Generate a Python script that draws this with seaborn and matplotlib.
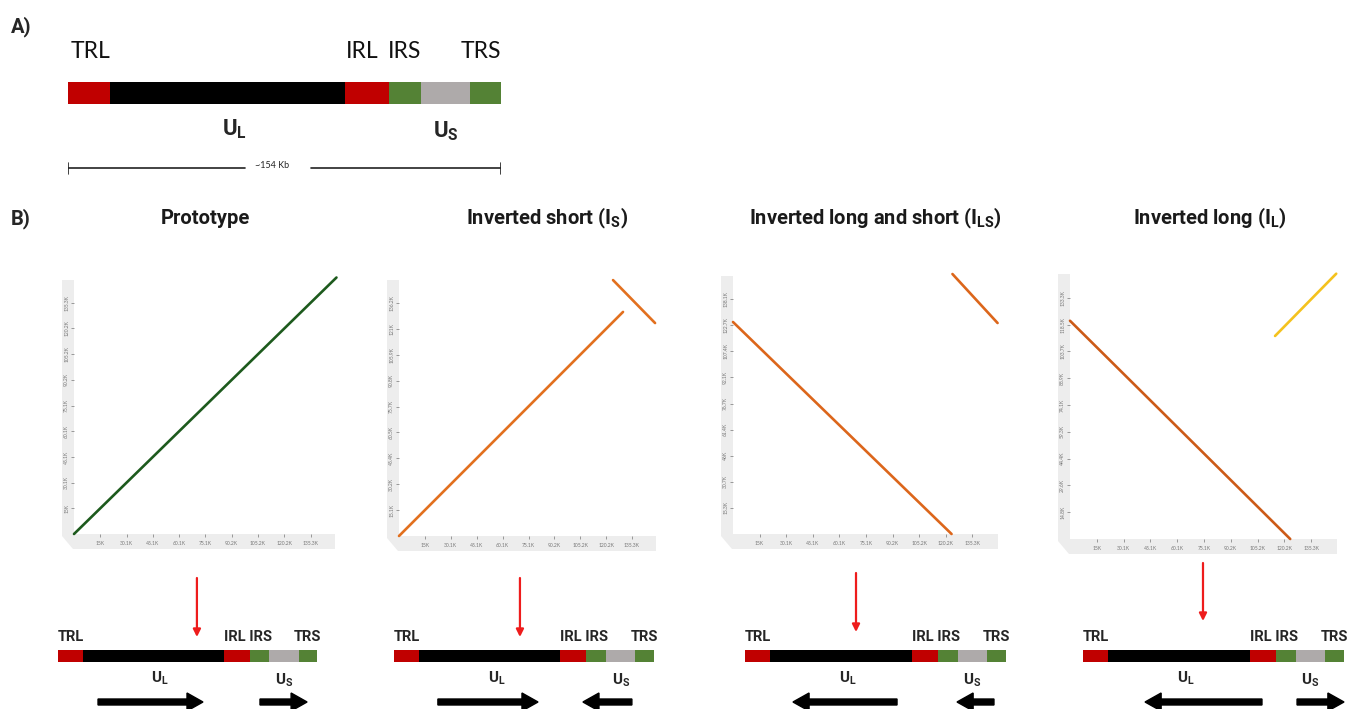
import numpy as np
import pandas as pd
import matplotlib
matplotlib.use("Agg")
import matplotlib.pyplot as plt
from matplotlib.patches import Polygon, FancyArrow
import seaborn as sns

W, H = 1347, 709

# ---- genome architecture (kb) ----
segment_names = ["TRL", "UL", "IRL", "IRS", "US", "TRS"]
segment_kb = [15.0, 83.5, 15.5, 11.5, 17.5, 11.0]
segment_colors = ["#c00000", "#000000", "#c00000", "#548235", "#aeaaaa", "#548235"]
genome_kb = 154

# ---- dot plots ----
panel_titles = ["Prototype", r"Inverted short (I$_S$)",
                r"Inverted long and short (I$_{LS}$)", r"Inverted long (I$_L$)"]
x_lengths = [150.3, 150.3, 150.3, 150.3]
y_lengths = [150.3, 151.3, 153.4, 148.1]
x_tick_labels = ["15K", "30.1K", "45.1K", "60.1K", "75.1K", "90.2K", "105.2K", "120.2K", "135.3K"]
y_tick_labels = [
    ["15K", "30.1K", "45.1K", "60.1K", "75.1K", "90.2K", "105.2K", "120.2K", "135.3K"],
    ["15.1K", "30.2K", "45.4K", "60.5K", "75.7K", "90.8K", "105.9K", "121K", "136.2K"],
    ["15.3K", "30.7K", "46K", "61.4K", "76.7K", "92.1K", "107.4K", "122.7K", "138.1K"],
    ["14.8K", "29.6K", "44.4K", "59.3K", "74.1K", "88.9K", "103.7K", "118.5K", "133.3K"],
]
# alignment segments: (x0, y0) -> (x1, y1) in kb
align_x0 = [[0.0], [0.0, 124.2], [0.0, 124.0], [0.0, 115.0]]
align_y0 = [[0.0], [0.0, 149.5], [124.6, 152.8], [120.6, 112.2]]
align_x1 = [[150.0], [130.0, 148.6], [123.5, 149.5], [123.5, 149.3]]
align_y1 = [[150.0], [130.9, 124.4], [0.0, 124.0], [0.0, 146.6]]
align_colors = [["#1d5a1d"], ["#e2701f", "#e2701f"], ["#dc661b", "#dc661b"], ["#cc5a17", "#f4c21e"]]

# ---- isomer maps below the dot plots ----
cut_site_kb = [82.6, 74.6, 65.5, 70.8]
ul_arrow_tail = [23.8, 26.0, 89.7, 105.6]
ul_arrow_head = [86.2, 85.3, 28.3, 36.6]
us_arrow_tail = [120.1, 140.9, 146.9, 126.3]
us_arrow_head = [148.1, 111.9, 125.1, 154.0]

sns.set_theme(style="white")
plt.rcParams["font.family"] = ["Lato", "DejaVu Sans"]
plt.rcParams["mathtext.default"] = "regular"
BOLD = ["Roboto", "DejaVu Sans"]

fig = plt.figure(figsize=(W / 100, H / 100), dpi=100)
fig.patch.set_facecolor("white")


def px_axes(l, t, r, b):
    return fig.add_axes([l / W, 1 - b / H, (r - l) / W, (b - t) / H])


def fig_pt(x, y):
    return (x / W, 1 - y / H)


starts = np.cumsum([0.0] + segment_kb[:-1])
centers = starts + np.array(segment_kb) / 2


def draw_genome(ax, yc, h):
    ax.barh([yc] * len(segment_kb), segment_kb, left=starts, height=h,
            color=segment_colors, edgecolor="none", linewidth=0)


# ================= A) =================
fig.text(*fig_pt(11, 27), "A)", fontsize=14.5, fontweight="bold", family=BOLD, va="center", ha="left")
axA = px_axes(68, 0, 501, 190)
axA.set_xlim(0, genome_kb)
axA.set_ylim(190, 0)
axA.axis("off")
draw_genome(axA, 93, 22)
for name, cx, dx in zip(["TRL", "IRL", "IRS", "TRS"],
                        [centers[0], centers[2], centers[3], centers[5]],
                        [0.5, -1.5, 0.0, -1.5]):
    axA.text(cx + dx, 52, name, fontsize=16.5, ha="center", va="center", color="#111111",
             clip_on=False)
axA.text(centers[1] + 2.5, 129, "U$_L$", fontsize=16, fontweight="bold", family=BOLD,
         ha="center", va="center")
axA.text(centers[4], 131, "U$_S$", fontsize=16, fontweight="bold", family=BOLD,
         ha="center", va="center")
# scale bar
axA.plot([0, 63], [168, 168], color="#222222", lw=1.2)
axA.plot([86.5, genome_kb], [168, 168], color="#222222", lw=1.2)
axA.plot([0, 0], [163, 174], color="#222222", lw=1.2)
axA.plot([genome_kb, genome_kb], [163, 174], color="#222222", lw=1.2)
axA.text(72.5, 166, "~%d Kb" % genome_kb, fontsize=6.5, ha="center", va="center")

# ================= B) =================
fig.text(*fig_pt(11, 219), "B)", fontsize=14.5, fontweight="bold", family=BOLD, va="center", ha="left")

plot_rects = [(74, 277, 337, 534), (399, 277, 658, 536), (733, 273, 999, 534), (1070, 271, 1338, 539)]
frame_right = [335, 656, 998, 1337]
title_cx = [205, 547, 875, 1210]
map_rects = [(58, 317), (394, 654), (745, 1006), (1083, 1344)]
cut_y = [(578, 637), (578, 637), (573, 632), (563, 621)]

for i in range(4):
    l, t, r, b = plot_rects[i]
    # floor/wall backdrop of the dot plot
    pts = [(l - 12, t + 3), (l, t + 3), (l, b), (frame_right[i], b), (frame_right[i], b + 15),
           (l - 1, b + 15), (l - 12, b + 2)]
    fig.add_artist(Polygon([fig_pt(*p) for p in pts], closed=True, transform=fig.transFigure,
                           facecolor="#ededed", edgecolor="none", zorder=-1))

    ax = px_axes(l, t, r, b)
    ax.set_facecolor("none")
    for k in range(len(align_x0[i])):
        seg = pd.DataFrame({"x": [align_x0[i][k], align_x1[i][k]],
                            "y": [align_y0[i][k], align_y1[i][k]]})
        sns.lineplot(data=seg, x="x", y="y", ax=ax, color=align_colors[i][k], lw=1.9,
                     sort=False, estimator=None, clip_on=False)
    ax.set_xlim(0, x_lengths[i])
    ax.set_ylim(0, y_lengths[i])
    ax.set_xticks([x_lengths[i] * j / 10 for j in range(1, 10)])
    ax.set_xticklabels(x_tick_labels)
    ax.set_yticks([y_lengths[i] * j / 10 for j in range(1, 10)])
    ax.set_yticklabels(y_tick_labels[i], rotation=90, va="center")
    ax.tick_params(axis="both", labelsize=3.6, colors="#777777", length=2, width=0.5,
                   direction="out", bottom=True, left=True)
    ax.tick_params(axis="x", pad=3)
    ax.tick_params(axis="y", pad=1.5)
    ax.set_xlabel("")
    ax.set_ylabel("")
    for s in ax.spines.values():
        s.set_visible(False)

    fig.text(*fig_pt(title_cx[i], 218), panel_titles[i], fontsize=14.5, fontweight="bold",
             family=BOLD, ha="center", va="center", color="#1a1a1a")

    # isomer map
    ml, mr = map_rects[i]
    axm = px_axes(ml, 560, mr, 709)
    axm.set_xlim(0, genome_kb)
    axm.set_ylim(709, 560)
    axm.axis("off")
    draw_genome(axm, 655.5, 12)
    lab = dict(fontsize=10.5, fontweight="bold", family=BOLD, va="center", clip_on=False)
    axm.text(0, 637, "TRL", ha="left", **lab)
    axm.text(starts[2], 637, "IRL IRS", ha="left", **lab)
    axm.text(centers[5], 637, "TRS", ha="center", **lab)
    axm.text(centers[1] + 4, 678, "U$_L$", fontsize=11, fontweight="bold", family=BOLD,
             ha="center", va="center")
    axm.text(centers[4], 680, "U$_S$", fontsize=11, fontweight="bold", family=BOLD,
             ha="center", va="center")
    axm.annotate("", xy=(cut_site_kb[i], cut_y[i][1]), xytext=(cut_site_kb[i], cut_y[i][0]),
                 arrowprops=dict(arrowstyle="-|>", color="#ee1c1c", lw=1.6, mutation_scale=11,
                                 shrinkA=0, shrinkB=0))
    for tail, head in [(ul_arrow_tail[i], ul_arrow_head[i]), (us_arrow_tail[i], us_arrow_head[i])]:
        axm.add_patch(FancyArrow(tail, 702, head - tail, 0, width=6, head_width=18,
                                 head_length=9.5, length_includes_head=True,
                                 color="black", clip_on=False))

fig.savefig("out.png", dpi=100, facecolor="white")
